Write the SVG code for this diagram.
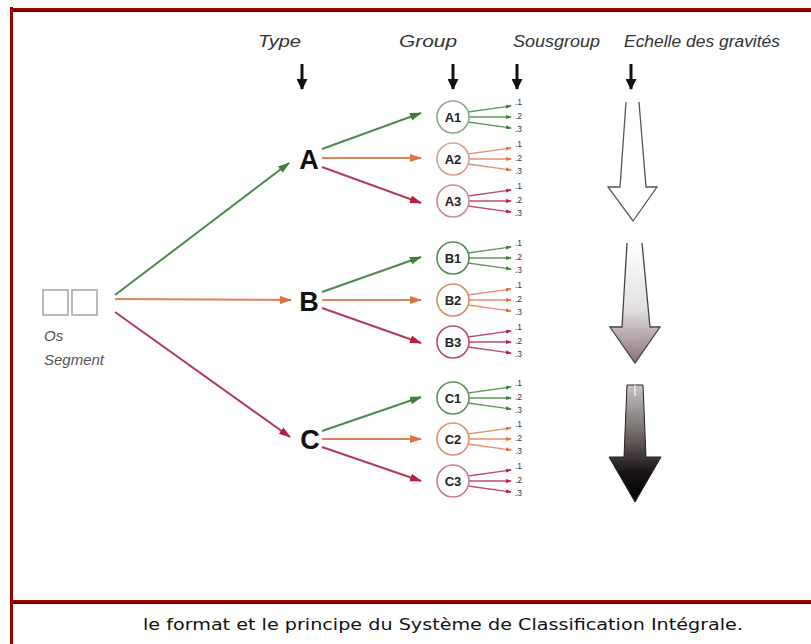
<svg xmlns="http://www.w3.org/2000/svg" width="811" height="644" viewBox="0 0 811 644">
<defs>
<style>
.hdr{font-family:"Liberation Sans",Arial,sans-serif;font-style:italic;font-size:16px;fill:#333}
.big{font-family:"Liberation Sans",Arial,sans-serif;font-weight:bold;font-size:27px;fill:#111}
.grp{font-family:"Liberation Sans",Arial,sans-serif;font-weight:bold;font-size:13px;fill:#222}
.sub{font-family:"Liberation Sans",Arial,sans-serif;font-size:8.5px;fill:#333}
.os{font-family:"Liberation Sans",Arial,sans-serif;font-style:italic;font-size:15px;fill:#555}
.cap{font-family:"DejaVu Sans",Verdana,sans-serif;font-size:15px;fill:#111}
.g{stroke:#4b8a4b;stroke-width:2;fill:none}
.o{stroke:#e0825a;stroke-width:2;fill:none}
.r{stroke:#b43a55;stroke-width:2;fill:none}
.gs{stroke:#5d9a5d;stroke-width:1.3;fill:none}
.os2{stroke:#e39070;stroke-width:1.3;fill:none}
.rs{stroke:#c04a65;stroke-width:1.3;fill:none}
.cg{stroke:#8fa88f;stroke-width:1.6;fill:#fff}
.co{stroke:#d8a090;stroke-width:1.6;fill:#fff}
.cr{stroke:#c98a98;stroke-width:1.6;fill:#fff}
</style>
<marker id="mg" markerWidth="12" markerHeight="8" refX="11" refY="4" orient="auto" markerUnits="userSpaceOnUse"><path d="M0,0 L12,4 L0,8 Z" fill="#3d7f3d"/></marker>
<marker id="mo" markerWidth="12" markerHeight="8" refX="11" refY="4" orient="auto" markerUnits="userSpaceOnUse"><path d="M0,0 L12,4 L0,8 Z" fill="#e0703e"/></marker>
<marker id="mr" markerWidth="12" markerHeight="8" refX="11" refY="4" orient="auto" markerUnits="userSpaceOnUse"><path d="M0,0 L12,4 L0,8 Z" fill="#b82040"/></marker>
<marker id="sg" markerWidth="6" markerHeight="4" refX="5" refY="2" orient="auto" markerUnits="userSpaceOnUse"><path d="M0,0 L6,2 L0,4 Z" fill="#3d7f3d"/></marker>
<marker id="so" markerWidth="6" markerHeight="4" refX="5" refY="2" orient="auto" markerUnits="userSpaceOnUse"><path d="M0,0 L6,2 L0,4 Z" fill="#e0703e"/></marker>
<marker id="sr" markerWidth="6" markerHeight="4" refX="5" refY="2" orient="auto" markerUnits="userSpaceOnUse"><path d="M0,0 L6,2 L0,4 Z" fill="#b82040"/></marker>
<marker id="hk" markerWidth="11" markerHeight="11" refX="10" refY="5.5" orient="auto" markerUnits="userSpaceOnUse"><path d="M0,0 L11,5.5 L0,11 Z" fill="#111"/></marker>
<linearGradient id="bar" x1="0" y1="0" x2="0" y2="1"><stop offset="0" stop-color="#b00000"/><stop offset="0.6" stop-color="#8a0000"/><stop offset="1" stop-color="#4a0000"/></linearGradient>
<linearGradient id="gv2" x1="0" y1="243" x2="0" y2="363" gradientUnits="userSpaceOnUse"><stop offset="0" stop-color="#ffffff"/><stop offset="0.55" stop-color="#e2e0e0"/><stop offset="1" stop-color="#8c7078"/></linearGradient>
<linearGradient id="gv3" x1="0" y1="385" x2="0" y2="502" gradientUnits="userSpaceOnUse"><stop offset="0" stop-color="#c8c4c4"/><stop offset="0.45" stop-color="#6a6060"/><stop offset="0.75" stop-color="#1a1414"/><stop offset="1" stop-color="#000"/></linearGradient>
</defs>

<g id="frame">
<rect x="10" y="7" width="3" height="637" fill="#9a0000"/>
<rect x="11" y="8" width="800" height="4" fill="url(#bar)"/>
<rect x="11" y="600" width="800" height="4" fill="url(#bar)"/>
</g>

<g id="headers">
<text class="hdr" x="258" y="47" textLength="43" lengthAdjust="spacingAndGlyphs">Type</text>
<text class="hdr" x="399" y="47" textLength="58" lengthAdjust="spacingAndGlyphs">Group</text>
<text class="hdr" x="513" y="47" textLength="87" lengthAdjust="spacingAndGlyphs">Sousgroup</text>
<text class="hdr" x="624" y="47" textLength="156" lengthAdjust="spacingAndGlyphs">Echelle des gravités</text>
<g stroke="#111" stroke-width="3">
<line x1="302" y1="64" x2="302" y2="89" marker-end="url(#hk)"/>
<line x1="453" y1="64" x2="453" y2="89" marker-end="url(#hk)"/>
<line x1="517" y1="64" x2="517" y2="89" marker-end="url(#hk)"/>
<line x1="631" y1="64" x2="631" y2="89" marker-end="url(#hk)"/>
</g>
</g>

<g id="source">
<rect x="43" y="290" width="25" height="25" fill="#fff" stroke="#b8b8b8" stroke-width="2"/>
<rect x="72" y="290" width="25" height="25" fill="#fff" stroke="#b8b8b8" stroke-width="2"/>
<text class="os" x="44" y="341">Os</text>
<text class="os" x="44" y="365">Segment</text>
</g>

<g id="connectors">
<line class="g" x1="115" y1="295" x2="289" y2="163" marker-end="url(#mg)"/>
<line class="o" x1="115" y1="299" x2="291" y2="300" marker-end="url(#mo)"/>
<line class="r" x1="115" y1="312" x2="290" y2="437" marker-end="url(#mr)"/>

<line class="g" x1="322" y1="149" x2="421" y2="113" marker-end="url(#mg)"/>
<line class="o" x1="322" y1="158" x2="421" y2="158" marker-end="url(#mo)"/>
<line class="r" x1="322" y1="167" x2="421" y2="203" marker-end="url(#mr)"/>

<line class="g" x1="322" y1="292" x2="421" y2="257" marker-end="url(#mg)"/>
<line class="o" x1="322" y1="300" x2="421" y2="300" marker-end="url(#mo)"/>
<line class="r" x1="322" y1="308" x2="421" y2="343" marker-end="url(#mr)"/>

<line class="g" x1="322" y1="431" x2="421" y2="397" marker-end="url(#mg)"/>
<line class="o" x1="322" y1="439" x2="421" y2="439" marker-end="url(#mo)"/>
<line class="r" x1="322" y1="447" x2="421" y2="481" marker-end="url(#mr)"/>

<g id="subA1"><path class="gs" d="M468,112 L511,106" marker-end="url(#sg)"/><path class="gs" d="M469,117 L511,117" marker-end="url(#sg)"/><path class="gs" d="M468,122 L511,128" marker-end="url(#sg)"/></g>
<g id="subA2"><path class="os2" d="M468,154 L511,148" marker-end="url(#so)"/><path class="os2" d="M469,159 L511,159" marker-end="url(#so)"/><path class="os2" d="M468,164 L511,170" marker-end="url(#so)"/></g>
<g id="subA3"><path class="rs" d="M468,196 L511,190" marker-end="url(#sr)"/><path class="rs" d="M469,201 L511,201" marker-end="url(#sr)"/><path class="rs" d="M468,206 L511,212" marker-end="url(#sr)"/></g>
<g id="subB1"><path class="gs" d="M468,253 L511,247" marker-end="url(#sg)"/><path class="gs" d="M469,258 L511,258" marker-end="url(#sg)"/><path class="gs" d="M468,263 L511,269" marker-end="url(#sg)"/></g>
<g id="subB2"><path class="os2" d="M468,295 L511,289" marker-end="url(#so)"/><path class="os2" d="M469,300 L511,300" marker-end="url(#so)"/><path class="os2" d="M468,305 L511,311" marker-end="url(#so)"/></g>
<g id="subB3"><path class="rs" d="M468,337 L511,331" marker-end="url(#sr)"/><path class="rs" d="M469,342 L511,342" marker-end="url(#sr)"/><path class="rs" d="M468,347 L511,353" marker-end="url(#sr)"/></g>
<g id="subC1"><path class="gs" d="M468,393 L511,387" marker-end="url(#sg)"/><path class="gs" d="M469,398 L511,398" marker-end="url(#sg)"/><path class="gs" d="M468,403 L511,409" marker-end="url(#sg)"/></g>
<g id="subC2"><path class="os2" d="M468,434 L511,428" marker-end="url(#so)"/><path class="os2" d="M469,439 L511,439" marker-end="url(#so)"/><path class="os2" d="M468,444 L511,450" marker-end="url(#so)"/></g>
<g id="subC3"><path class="rs" d="M468,476 L511,470" marker-end="url(#sr)"/><path class="rs" d="M469,481 L511,481" marker-end="url(#sr)"/><path class="rs" d="M468,486 L511,492" marker-end="url(#sr)"/></g>
</g>

<g id="nodeA"><text class="big" x="309" y="169" text-anchor="middle">A</text></g>
<g id="nodeB"><text class="big" x="309" y="311" text-anchor="middle">B</text></g>
<g id="nodeC"><text class="big" x="310" y="449" text-anchor="middle">C</text></g>

<g id="A1"><circle class="cg" cx="453" cy="117" r="16"/><text class="grp" x="453" y="121.5" text-anchor="middle">A1</text></g>
<g id="A2"><circle class="co" cx="453" cy="159" r="16"/><text class="grp" x="453" y="163.5" text-anchor="middle">A2</text></g>
<g id="A3"><circle class="cr" cx="453" cy="201" r="16"/><text class="grp" x="453" y="205.5" text-anchor="middle">A3</text></g>
<g id="B1"><circle class="cg" cx="453" cy="258" r="16" style="stroke:#4f8f4f"/><text class="grp" x="453" y="262.5" text-anchor="middle">B1</text></g>
<g id="B2"><circle class="co" cx="453" cy="300" r="16" style="stroke:#e08a60"/><text class="grp" x="453" y="304.5" text-anchor="middle">B2</text></g>
<g id="B3"><circle class="cr" cx="453" cy="342" r="16" style="stroke:#c04a65"/><text class="grp" x="453" y="346.5" text-anchor="middle">B3</text></g>
<g id="C1"><circle class="cg" cx="453" cy="398" r="16" style="stroke:#5a955a"/><text class="grp" x="453" y="402.5" text-anchor="middle">C1</text></g>
<g id="C2"><circle class="co" cx="453" cy="439" r="16" style="stroke:#e09070"/><text class="grp" x="453" y="443.5" text-anchor="middle">C2</text></g>
<g id="C3"><circle class="cr" cx="453" cy="481" r="16" style="stroke:#d07a90"/><text class="grp" x="453" y="485.5" text-anchor="middle">C3</text></g>

<g id="sublabels">
<text class="sub" x="515" y="105">.1</text><text class="sub" x="515" y="119">.2</text><text class="sub" x="515" y="132">.3</text>
<text class="sub" x="515" y="147">.1</text><text class="sub" x="515" y="161">.2</text><text class="sub" x="515" y="174">.3</text>
<text class="sub" x="515" y="189">.1</text><text class="sub" x="515" y="203">.2</text><text class="sub" x="515" y="216">.3</text>
<text class="sub" x="515" y="246">.1</text><text class="sub" x="515" y="260">.2</text><text class="sub" x="515" y="273">.3</text>
<text class="sub" x="515" y="288">.1</text><text class="sub" x="515" y="302">.2</text><text class="sub" x="515" y="315">.3</text>
<text class="sub" x="515" y="330">.1</text><text class="sub" x="515" y="344">.2</text><text class="sub" x="515" y="357">.3</text>
<text class="sub" x="515" y="386">.1</text><text class="sub" x="515" y="400">.2</text><text class="sub" x="515" y="413">.3</text>
<text class="sub" x="515" y="427">.1</text><text class="sub" x="515" y="441">.2</text><text class="sub" x="515" y="454">.3</text>
<text class="sub" x="515" y="469">.1</text><text class="sub" x="515" y="483">.2</text><text class="sub" x="515" y="496">.3</text>
</g>

<g id="gravity1">
<path d="M626,102 L620,187 L608,187 L633,221 L657,187 L646,187 L639,102 Z" fill="#fff" stroke="none"/>
<path d="M626,102 L620,187 L608,187 L633,221 L657,187 L646,187 L639,102" fill="none" stroke="#555" stroke-width="1.3"/>
</g>
<g id="gravity2">
<path d="M627,243 L622,327 L610,327 L635,363 L660,327 L650,327 L642,243 Z" fill="url(#gv2)" stroke="none"/>
<path d="M627,243 L622,327 L610,327 L635,363 L660,327 L650,327 L642,243" fill="none" stroke="#444" stroke-width="1.3"/>
</g>
<g id="gravity3">
<path d="M627,385 L624,457 L609,457 L635,502 L661,457 L646,457 L643,385 Z" fill="url(#gv3)" stroke="#222" stroke-width="1"/>
<line x1="635" y1="385" x2="635" y2="396" stroke="#eee" stroke-width="1.5"/>
</g>

<g id="caption">
<text class="cap" x="443" y="630" text-anchor="middle" textLength="600" lengthAdjust="spacingAndGlyphs">le format et le principe du Système de Classification Intégrale.</text>
</g>
</svg>
